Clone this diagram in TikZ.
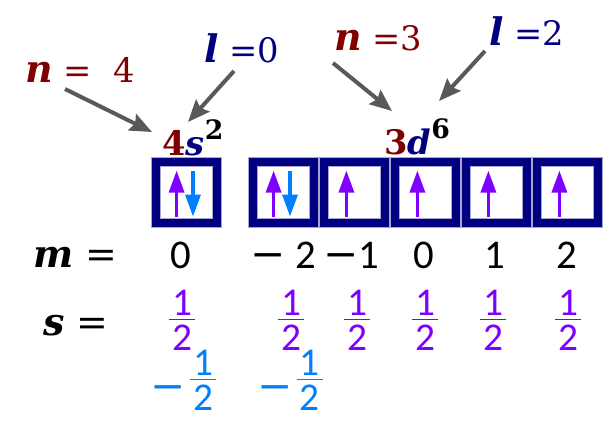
\documentclass[tikz,border=0pt]{standalone}
\usepackage{fontspec}
\setmainfont{Carlito}
\newfontfamily\qfont{DejaVu Serif}
\usetikzlibrary{arrows.meta}
\definecolor{nred}{HTML}{800000}
\definecolor{lblue}{HTML}{000080}
\definecolor{spinup}{HTML}{8000FF}
\definecolor{spindown}{HTML}{0080FF}
\definecolor{pointgray}{HTML}{595959}
\setlength{\arrayrulewidth}{1.4pt}

\begin{document}
\begin{tikzpicture}[
    orbital/.style={draw=lblue, line width=0.2cm, preaction={draw=lblue!35, line width=0.25cm}, minimum size=1.525cm, inner sep=0pt},
    upspin/.style={draw=spinup, line width=0.085cm, -{Triangle[length=0.55cm,width=0.375cm]}},
    downspin/.style={draw=spindown, line width=0.085cm, -{Triangle[length=0.55cm,width=0.375cm]}},
    pointer/.style={draw=pointgray, line width=0.1cm, -{Stealth[length=0.55cm,width=0.45cm,inset=0.08cm]}},
    qlabel/.style={anchor=base west, inner sep=0pt, font=\qfont\fontsize{24}{24}\selectfont},
    shell/.style={anchor=base west, inner sep=0pt, font=\qfont\bfseries\fontsize{24}{24}\selectfont},
    rowlabel/.style={anchor=base west, inner sep=0pt, font=\qfont\fontsize{27}{27}\selectfont},
    mval/.style={anchor=base, inner sep=0pt, font=\fontsize{29}{29}\selectfont},
    sval/.style={anchor=base, inner sep=0pt, font=\fontsize{28}{28}\selectfont},
  ]
    \newcommand{\qbi}[1]{{\bfseries\itshape #1}}
    \newcommand{\qletter}[1]{{\fontsize{27}{27}\selectfont\bfseries\itshape #1}}
    \newcommand{\qminus}{{\qfont\fontsize{30}{30}\selectfont −}}
    \newcommand{\shalf}{\renewcommand{\arraystretch}{0.5}\begin{tabular}[b]{@{\hspace{2pt}}c@{\hspace{2pt}}}1\\[-2pt]\hline\rule{0pt}{21pt}2\end{tabular}}
    \useasboundingbox (0,0) rectangle (15.3,-10.5);
\node[qlabel, text=nred] (n4) at (0.625, -2.05){\qletter{n} = \ 4};
\node[qlabel, text=lblue] (l0) at (5.1, -1.55){\qletter{l} =0};
\node[qlabel, text=nred] (n3) at (8.35, -1.25){\qletter{n} =3};
\node[qlabel, text=lblue] (l2) at (12.225, -1.125){\qletter{l} =2};
\node[shell] (st) at (4.05, -3.875){\textcolor{nred}{4}\textcolor{lblue}{\itshape s}\raisebox{11pt}{\fontsize{19}{19}\selectfont 2}};
\node[shell] (dt) at (9.6, -3.85){\textcolor{nred}{3}\textcolor{lblue}{\itshape d}\raisebox{11pt}{\fontsize{19}{19}\selectfont 6}};
\node[orbital] (s1) at (4.65, -4.815){};
\node[orbital] (d1) at (7.075, -4.815){};
\node[orbital] (d2) at (8.85, -4.815){};
\node[orbital] (d3) at (10.625, -4.815){};
\node[orbital] (d4) at (12.4, -4.815){};
\node[orbital] (d5) at (14.175, -4.815){};
\node[rowlabel] (mlabel) at (0.825, -6.675){\qbi{m} =};
\node[mval] (m0) at (4.525, -6.7){0};
\node[mval] (m1) at (7.0875, -6.7){\qminus\ 2};
\node[mval] (m2) at (8.7875, -6.7){\qminus1};
\node[mval] (m3) at (10.6, -6.7){0};
\node[mval] (m4) at (12.375, -6.7){1};
\node[mval] (m5) at (14.175, -6.7){2};
\node[rowlabel] (slabel) at (1.075, -8.375){\qbi{s} =};
\node[sval, text=spinup] (s0) at (4.55, -8.75){\shalf};
\node[sval, text=spinup] (sd1) at (7.275, -8.75){\shalf};
\node[sval, text=spinup] (sd2) at (8.925, -8.75){\shalf};
\node[sval, text=spinup] (sd3) at (10.625, -8.75){\shalf};
\node[sval, text=spinup] (sd4) at (12.325, -8.75){\shalf};
\node[sval, text=spinup] (sd5) at (14.2, -8.75){\shalf};
\node[sval, text=spindown] (ss0) at (4.5875, -10.25){\raisebox{7pt}{\qminus}\hspace{3pt}\shalf};
\node[sval, text=spindown] (ssd1) at (7.25, -10.25){\raisebox{7pt}{\qminus}\hspace{3pt}\shalf};
\draw[pointer] ([shift={(1,-0.175)}]n4.base west) -- ([shift={(-0.25,0.575)}]st.base west);
\draw[pointer] ([shift={(0.75,-0.225)}]l0.base west) -- ([shift={(0.65,0.825)}]st.base west);
\draw[pointer] ([shift={(-0.025,-0.325)}]n3.base west) -- ([shift={(0.2,1.075)}]dt.base west);
\draw[pointer] ([shift={(-0.1,-0.15)}]l2.base west) -- ([shift={(1.375,1.325)}]dt.base west);
\draw[upspin] ([shift={(-0.235,-0.6)}]s1.center) -- ([shift={(-0.235,0.55)}]s1.center);
\draw[downspin] ([shift={(0.175,0.53)}]s1.center) -- ([shift={(0.175,-0.6)}]s1.center);
\draw[upspin] ([shift={(-0.235,-0.6)}]d1.center) -- ([shift={(-0.235,0.55)}]d1.center);
\draw[downspin] ([shift={(0.175,0.53)}]d1.center) -- ([shift={(0.175,-0.6)}]d1.center);
\draw[upspin] ([shift={(-0.19,-0.6)}]d2.center) -- ([shift={(-0.19,0.55)}]d2.center);
\draw[upspin] ([shift={(-0.19,-0.6)}]d3.center) -- ([shift={(-0.19,0.55)}]d3.center);
\draw[upspin] ([shift={(-0.19,-0.6)}]d4.center) -- ([shift={(-0.19,0.55)}]d4.center);
\draw[upspin] ([shift={(-0.19,-0.6)}]d5.center) -- ([shift={(-0.19,0.55)}]d5.center);
\end{tikzpicture}
\end{document}
